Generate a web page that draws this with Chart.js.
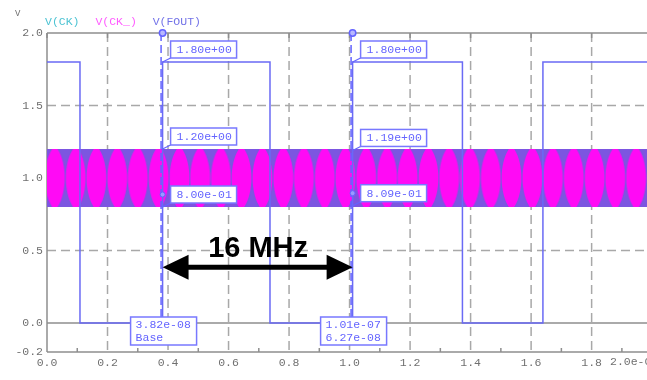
<!DOCTYPE html>
<html><head><meta charset="utf-8">
<script src="https://cdn.jsdelivr.net/npm/chart.js@4/dist/chart.umd.min.js"></script>
<style>html,body{margin:0;padding:0;background:#fff;overflow:hidden}#wrap{width:647px;height:380px;position:relative}</style>
</head><body><div id="wrap"><canvas id="c" width="647" height="380"></canvas></div>
<script>
// ---- data ----
const xTickValues = [0, 0.2, 0.4, 0.6, 0.8, 1.0, 1.2, 1.4, 1.6, 1.8];
const xTickLabels = ['0.0','0.2','0.4','0.6','0.8','1.0','1.2','1.4','1.6','1.8'];
const xMinorTicks = [0.1, 0.3, 0.5, 0.7, 0.9, 1.1, 1.3, 1.5, 1.7, 1.9];
const xEndLabel = '2.0e-07';
const yTickValues = [-0.2, 0, 0.5, 1.0, 1.5, 2.0];
const yTickLabels = ['-0.2','0.0','0.5','1.0','1.5','2.0'];
const yDashedGrid = [0.5, 1.0, 1.5];
const seriesNames = ['V(CK)', 'V(CK_)', 'V(FOUT)'];
const unitLabel = 'V';

// V(FOUT) square wave: transition times (x 1e-7 s) and levels
const foutT = [0, 0.109, 0.382, 0.737, 1.010, 1.373, 1.639, 2.0];
const foutV = [1.8, 0, 1.8, 0, 1.8, 0, 1.8, 1.8];

// V(CK) band limits
const ckT = [0, 2.0];
const ckHigh = [1.2, 1.2];
const ckLow = [0.8, 0.8];

// V(CK_) beat lobes: centre times and centre level
const ckbT = [0.026,0.095,0.163,0.232,0.300,0.369,0.438,0.506,0.575,0.643,0.712,0.781,0.849,0.918,0.986,
              1.055,1.124,1.192,1.261,1.329,1.398,1.467,1.535,1.604,1.672,1.741,1.810,1.878,1.947];
const ckbV = [1.0,1.0,1.0,1.0,1.0,1.0,1.0,1.0,1.0,1.0,1.0,1.0,1.0,1.0,1.0,
              1.0,1.0,1.0,1.0,1.0,1.0,1.0,1.0,1.0,1.0,1.0,1.0,1.0,1.0];

// cursors
const cursorT = [0.382, 1.010];
const cursorFoutV = [1.8, 1.8];
const cursorFoutTxt = ['1.80e+00', '1.80e+00'];
const cursorHiV = [1.2, 1.19];
const cursorHiTxt = ['1.20e+00', '1.19e+00'];
const cursorLoV = [0.8, 0.809];
const cursorLoTxt = ['8.00e-01', '8.09e-01'];
const cursorTime1 = ['3.82e-08', '1.01e-07'];
const cursorTime2 = ['Base', '6.27e-08'];
const annotationText = '16 MHz';

// ---- styles ----
const MONO = '"Liberation Mono", "DejaVu Sans Mono", monospace';
const C_FOUT = '#6a6af5';
const C_CUR = '#6464ff';
const C_BAND = '#7c56e0';
const C_PINK = '#ff0af5';
const C_GRID = '#a8a8a8';
const C_FRAME = '#8e8e8e';
const C_TICK = '#707070';
const legendColors = ['#4cc3d3', '#ff5cff', '#7474e8'];

const pts = (xs, ys) => xs.map((v, i) => ({x: v, y: ys[i]}));

let lensCache = {key: '', c: null};
function lensStyle(ctx) {
  const ch = ctx.chart, xs = ch.scales.x, ys = ch.scales.y;
  if (!xs || !ys) return 'circle';
  const w = Math.max(2, Math.round(Math.abs(xs.getPixelForValue(ckbT[1]) - xs.getPixelForValue(ckbT[0]))));
  const h = Math.max(2, Math.round(Math.abs(ys.getPixelForValue(ckLow[0]) - ys.getPixelForValue(ckHigh[0]))));
  const key = w + 'x' + h;
  if (lensCache.key !== key) {
    const c = document.createElement('canvas');
    c.width = w; c.height = h;
    const g = c.getContext('2d');
    g.fillStyle = C_PINK;
    const cx = w / 2, rx = w * 0.47, k = rx / 0.75, t0 = -h * 0.06, t1 = h * 1.06;
    g.beginPath();
    g.moveTo(cx, t0);
    g.bezierCurveTo(cx - k, t0 + (t1 - t0) * 0.22, cx - k, t0 + (t1 - t0) * 0.78, cx, t1);
    g.bezierCurveTo(cx + k, t0 + (t1 - t0) * 0.78, cx + k, t0 + (t1 - t0) * 0.22, cx, t0);
    g.closePath();
    g.fill();
    lensCache = {key, c};
  }
  return lensCache.c;
}

const gridPlugin = {
  id: 'gridPlugin',
  beforeDatasetsDraw(chart) {
    const {ctx, chartArea: a, scales: {x, y}} = chart;
    ctx.save();
    ctx.lineWidth = 1.5;
    ctx.strokeStyle = C_GRID;
    ctx.setLineDash([9, 5]);
    xTickValues.forEach(v => {
      if (v === 0) return;
      const px = x.getPixelForValue(v);
      ctx.beginPath(); ctx.moveTo(px, a.top); ctx.lineTo(px, a.bottom); ctx.stroke();
    });
    yDashedGrid.forEach(v => {
      const py = y.getPixelForValue(v);
      ctx.beginPath(); ctx.moveTo(a.left, py); ctx.lineTo(a.right, py); ctx.stroke();
    });
    ctx.setLineDash([]);
    ctx.strokeStyle = C_FRAME;
    const yTop = y.getPixelForValue(2.0), yZero = y.getPixelForValue(0), yBot = y.getPixelForValue(-0.2);
    [yTop, yZero, yBot].forEach(py => {
      ctx.beginPath(); ctx.moveTo(a.left, py); ctx.lineTo(a.right, py); ctx.stroke();
    });
    const x0 = x.getPixelForValue(0);
    ctx.beginPath(); ctx.moveTo(x0, yTop); ctx.lineTo(x0, yBot); ctx.stroke();
    xMinorTicks.forEach(v => {
      const px = x.getPixelForValue(v);
      ctx.beginPath(); ctx.moveTo(px, yBot); ctx.lineTo(px, yBot - 4); ctx.stroke();
    });
    xTickValues.forEach(v => {
      const px = x.getPixelForValue(v);
      ctx.beginPath(); ctx.moveTo(px, yTop); ctx.lineTo(px, yTop + 5); ctx.stroke();
    });
    ctx.restore();
  }
};

function box(ctx, bx, by, w, h) {
  ctx.fillStyle = '#ffffff';
  ctx.fillRect(bx, by, w, h);
  ctx.strokeStyle = '#7878ff';
  ctx.lineWidth = 1.5;
  ctx.strokeRect(bx, by, w, h);
}

const overlayPlugin = {
  id: 'overlayPlugin',
  afterDatasetsDraw(chart) {
    const {ctx, chartArea: a, scales: {x, y}} = chart;
    ctx.save();
    const yTop = y.getPixelForValue(2.0);
    const yZero = y.getPixelForValue(0);
    const BW = 66, BH = 17;
    ctx.font = '11.5px ' + MONO;
    cursorT.forEach((t, i) => {
      const cx = x.getPixelForValue(t);
      ctx.strokeStyle = C_CUR; ctx.lineWidth = 1.5;
      ctx.setLineDash([8, 4]);
      ctx.beginPath(); ctx.moveTo(cx - 1.5, yTop); ctx.lineTo(cx - 1.5, yZero - 6); ctx.stroke();
      ctx.setLineDash([]);
      ctx.beginPath(); ctx.arc(cx, yTop, 3.2, 0, Math.PI * 2);
      ctx.fillStyle = '#b8b8ff'; ctx.fill(); ctx.stroke();
      [[cursorFoutV[i], cursorFoutTxt[i]], [cursorHiV[i], cursorHiTxt[i]], [cursorLoV[i], cursorLoTxt[i]]].forEach(([v, txt], k) => {
        const py = y.getPixelForValue(v);
        const bx = cx + 8, by = py - 21;
        ctx.strokeStyle = C_CUR; ctx.lineWidth = 1.2;
        ctx.beginPath(); ctx.moveTo(cx, py); ctx.lineTo(bx, by + BH); ctx.stroke();
        box(ctx, bx, by, BW, BH);
        ctx.fillStyle = C_CUR;
        ctx.textAlign = 'left'; ctx.textBaseline = 'middle';
        ctx.fillText(txt, bx + 6, by + BH / 2 + 0.5);
        if (k === 2) {
          ctx.beginPath(); ctx.arc(cx, by + BH / 2, 2.5, 0, Math.PI * 2);
          ctx.fillStyle = '#9a9aff'; ctx.fill();
          ctx.strokeStyle = C_CUR; ctx.lineWidth = 1; ctx.stroke();
        }
      });
      const tbx = cx - BW / 2 + 1, tby = yZero - 6;
      box(ctx, tbx, tby, BW, 28);
      ctx.fillStyle = C_CUR;
      ctx.textAlign = 'left'; ctx.textBaseline = 'middle';
      ctx.fillText(cursorTime1[i], tbx + 5, tby + 8);
      ctx.fillText(cursorTime2[i], tbx + 5, tby + 20.5);
    });

    const x1 = x.getPixelForValue(cursorT[0]), x2 = x.getPixelForValue(cursorT[1]);
    const ay = y.getPixelForValue(0.385);
    const HL = 26, HH = 12.5;
    ctx.fillStyle = '#000'; ctx.strokeStyle = '#000'; ctx.lineWidth = 5;
    ctx.beginPath(); ctx.moveTo(x1 + HL - 2, ay); ctx.lineTo(x2 - HL + 2, ay); ctx.stroke();
    ctx.beginPath(); ctx.moveTo(x1, ay); ctx.lineTo(x1 + HL, ay - HH); ctx.lineTo(x1 + HL, ay + HH); ctx.closePath(); ctx.fill();
    ctx.beginPath(); ctx.moveTo(x2, ay); ctx.lineTo(x2 - HL, ay - HH); ctx.lineTo(x2 - HL, ay + HH); ctx.closePath(); ctx.fill();
    ctx.font = 'bold 29px "Liberation Sans", Arial, sans-serif';
    ctx.textAlign = 'center'; ctx.textBaseline = 'alphabetic';
    ctx.fillText(annotationText, (x1 + x2) / 2 + 0.5, y.getPixelForValue(0.454));

    ctx.font = '11.5px ' + MONO;
    ctx.textAlign = 'left'; ctx.textBaseline = 'middle';
    let lx = a.left - 2;
    const cw = ctx.measureText('0').width;
    seriesNames.forEach((s, i) => {
      ctx.fillStyle = legendColors[i];
      ctx.fillText(s, lx, 22);
      lx += ctx.measureText(s).width + cw * 2.3;
    });
    ctx.fillStyle = C_TICK;
    ctx.font = '9px ' + MONO;
    ctx.fillText(unitLabel, 15, 14);
    ctx.font = '11.5px ' + MONO;
    ctx.textBaseline = 'top';
    ctx.fillText(xEndLabel, 610, 356);
    ctx.restore();
  }
};

new Chart(document.getElementById('c'), {
  type: 'line',
  data: {
    datasets: [
      {label: seriesNames[2], data: pts(foutT, foutV), stepped: true, borderColor: C_FOUT, borderWidth: 1.5,
       pointRadius: 0, fill: false},
      {label: seriesNames[1], data: pts(ckbT, ckbV), showLine: false, pointRadius: 10, pointStyle: lensStyle,
       borderWidth: 0, backgroundColor: C_PINK, borderColor: C_PINK},
      {label: seriesNames[0], data: pts(ckT, ckHigh), borderWidth: 0, borderColor: C_BAND, pointRadius: 0,
       fill: '+1', backgroundColor: C_BAND},
      {label: seriesNames[0] + ' low', data: pts(ckT, ckLow), borderWidth: 0, borderColor: C_BAND, pointRadius: 0,
       fill: false}
    ]
  },
  options: {
    responsive: false,
    animation: false,
    events: [],
    layout: {autoPadding: false, padding: {top: 33, right: 0, left: 0, bottom: 0}},
    plugins: {legend: {display: false}, tooltip: {enabled: false}},
    scales: {
      x: {
        type: 'linear', min: 0, max: 1.983,
        grid: {display: false, drawTicks: false}, border: {display: false},
        afterBuildTicks: s => { s.ticks = xTickValues.map(v => ({value: v})); },
        afterFit: s => { s.height = 28; s.paddingRight = 0; s.paddingLeft = 0; },
        ticks: {
          autoSkip: false, maxRotation: 0, padding: 4, color: C_TICK,
          font: {family: MONO, size: 11.5},
          callback: v => { const i = xTickValues.findIndex(t => Math.abs(t - v) < 1e-9); return i >= 0 ? xTickLabels[i] : ''; }
        }
      },
      y: {
        type: 'linear', min: -0.2, max: 2.0,
        grid: {display: false, drawTicks: false}, border: {display: false},
        afterBuildTicks: s => { s.ticks = yTickValues.map(v => ({value: v})); },
        afterFit: s => { s.width = 47; },
        ticks: {
          autoSkip: false, padding: 4, color: C_TICK,
          font: {family: MONO, size: 11.5},
          callback: v => { const i = yTickValues.findIndex(t => Math.abs(t - v) < 1e-9); return i >= 0 ? yTickLabels[i] : ''; }
        }
      }
    }
  },
  plugins: [gridPlugin, overlayPlugin]
});
</script>
</body></html>
